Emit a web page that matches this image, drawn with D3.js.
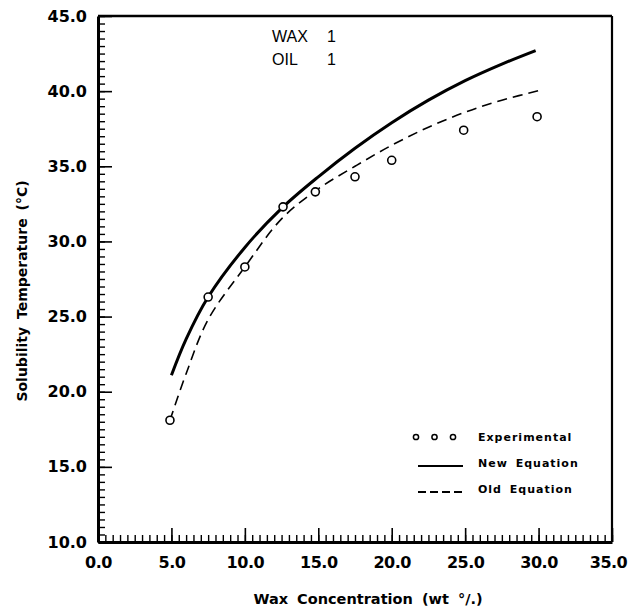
<!DOCTYPE html>
<html>
<head>
<meta charset="utf-8">
<script src="https://cdn.jsdelivr.net/npm/d3@7"></script>
<style>
    body { margin: 0; background: #fff; }
    svg { display: block; }
</style>
</head>
<body>
<svg id="chart"></svg>
<script>
// Experimental points
const expX = [4.9, 7.5, 10.0, 12.6, 14.8, 17.5, 20.0, 24.9, 29.9];
const expY = [18.1, 26.3, 28.3, 32.3, 33.3, 34.3, 35.4, 37.4, 38.3];

// New equation (solid)
const newX = [5.0, 6.0, 7.5, 10.0, 12.5, 15.0, 17.5, 20.0, 22.5, 25.0, 27.5, 29.8];
const newY = [21.1, 23.5, 26.3, 29.6, 32.2, 34.3, 36.2, 37.9, 39.4, 40.7, 41.8, 42.7];

// Old equation (dashed)
const oldX = [4.9, 6.0, 7.5, 10.0, 12.5, 15.0, 17.5, 20.0, 22.5, 25.0, 27.5, 30.3];
const oldY = [18.1, 21.2, 24.8, 28.3, 31.5, 33.5, 35.0, 36.4, 37.6, 38.6, 39.4, 40.1];

const xTicks = [0, 5, 10, 15, 20, 25, 30, 35];
const yTicks = [10, 15, 20, 25, 30, 35, 40, 45];

const legendLabels = ["Experimental", "New Equation", "Old Equation"];

const width = 630, height = 613;
const svg = d3.select("#chart").attr("width", width).attr("height", height);

const x = d3.scaleLinear().domain([0, 35]).range([98, 612]);
const y = d3.scaleLinear().domain([10, 45]).range([542, 16]);

const tickFont = "DejaVu Sans, sans-serif";

// minor ticks (every 0.5)
svg.append("g")
    .attr("transform", `translate(0,${y(10)})`)
    .call(d3.axisBottom(x).tickValues(d3.range(0, 35.01, 0.5)).tickSize(-7).tickFormat(""))
    .call(g => g.select(".domain").remove())
    .call(g => g.selectAll("line").attr("stroke-width", 1.4));

svg.append("g")
    .attr("transform", `translate(${x(0)},0)`)
    .call(d3.axisLeft(y).tickValues(d3.range(10, 45.01, 0.5)).tickSize(-7).tickFormat(""))
    .call(g => g.select(".domain").remove())
    .call(g => g.selectAll("line").attr("stroke-width", 1.4));

// major ticks + labels
svg.append("g")
    .attr("transform", `translate(0,${y(10)})`)
    .call(d3.axisBottom(x).tickValues(xTicks).tickSize(-14).tickSizeOuter(0).tickPadding(15)
        .tickFormat(d3.format(".1f")))
    .call(g => g.select(".domain").attr("stroke-width", 3))
    .call(g => g.selectAll("line").attr("stroke-width", 1.6))
    .call(g => g.selectAll("text")
        .attr("font-family", tickFont).attr("font-size", 16).attr("font-weight", "bold")
        .attr("letter-spacing", -0.5)
        .attr("fill", "#000"))
    .call(g => g.selectAll("text").filter(d => d === 35).attr("dx", -4));

svg.append("g")
    .attr("transform", `translate(${x(0)},0)`)
    .call(d3.axisLeft(y).tickValues(yTicks).tickSize(-14).tickSizeOuter(0).tickPadding(11)
        .tickFormat(d3.format(".1f")))
    .call(g => g.select(".domain").attr("stroke-width", 3))
    .call(g => g.selectAll("line").attr("stroke-width", 1.6))
    .call(g => g.selectAll("text")
        .attr("font-family", tickFont).attr("font-size", 16).attr("font-weight", "bold")
        .attr("fill", "#000"));

// top and right frame
svg.append("line")
    .attr("x1", x(0)).attr("x2", x(35)).attr("y1", y(45)).attr("y2", y(45))
    .attr("stroke", "#000").attr("stroke-width", 2.5);
svg.append("line")
    .attr("x1", x(35)).attr("x2", x(35)).attr("y1", y(45)).attr("y2", y(10))
    .attr("stroke", "#000").attr("stroke-width", 2.2);

// axis titles
svg.append("text")
    .attr("x", 368).attr("y", 604)
    .attr("text-anchor", "middle")
    .attr("font-family", tickFont).attr("font-size", 14.5).attr("font-weight", "bold")
    .attr("word-spacing", 4)
    .text("Wax Concentration (wt °/.)");

svg.append("text")
    .attr("transform", "translate(27,291) rotate(-90)")
    .attr("text-anchor", "middle")
    .attr("font-family", tickFont).attr("font-size", 14).attr("font-weight", "bold")
    .attr("word-spacing", 3)
    .text("Solubility Temperature (°C)");

// annotation
const ann = svg.append("g")
    .attr("font-family", "Liberation Sans, Arial, sans-serif").attr("font-size", 16);
ann.append("text").attr("x", 272).attr("y", 42).text("WAX");
ann.append("text").attr("x", 327).attr("y", 42).text("1");
ann.append("text").attr("x", 272).attr("y", 65).text("OIL");
ann.append("text").attr("x", 327).attr("y", 65).text("1");

// curves
const line = d3.line()
    .x(d => x(d[0]))
    .y(d => y(d[1]))
    .curve(d3.curveCatmullRom.alpha(0.5));

svg.append("path")
    .datum(oldX.map((v, i) => [v, oldY[i]]))
    .attr("d", line)
    .attr("fill", "none")
    .attr("stroke", "#000")
    .attr("stroke-width", 1.6)
    .attr("stroke-dasharray", "10,6");

svg.append("path")
    .datum(newX.map((v, i) => [v, newY[i]]))
    .attr("d", line)
    .attr("fill", "none")
    .attr("stroke", "#000")
    .attr("stroke-width", 3);

svg.append("g")
    .selectAll("circle")
    .data(expX.map((v, i) => [v, expY[i]]))
    .enter().append("circle")
    .attr("cx", d => x(d[0]))
    .attr("cy", d => y(d[1]))
    .attr("r", 4)
    .attr("fill", "#fff")
    .attr("stroke", "#000")
    .attr("stroke-width", 1.6);

// legend
const legend = svg.append("g")
    .attr("font-family", tickFont).attr("font-size", 11).attr("font-weight", "bold");

[416, 434.5, 453].forEach(cx => {
    legend.append("circle")
        .attr("cx", cx).attr("cy", 437).attr("r", 2.6)
        .attr("fill", "#fff").attr("stroke", "#000").attr("stroke-width", 1.5);
});
legend.append("line")
    .attr("x1", 418).attr("x2", 463).attr("y1", 466).attr("y2", 466)
    .attr("stroke", "#000").attr("stroke-width", 2);
legend.append("line")
    .attr("x1", 418).attr("x2", 463).attr("y1", 492).attr("y2", 492)
    .attr("stroke", "#000").attr("stroke-width", 2)
    .attr("stroke-dasharray", "8,4");

legend.selectAll("text.lab")
    .data(legendLabels)
    .enter().append("text")
    .attr("class", "lab")
    .attr("x", 478)
    .attr("y", (d, i) => 441 + i * 26)
    .attr("letter-spacing", 1)
    .attr("word-spacing", 3)
    .text(d => d);
</script>
</body>
</html>
